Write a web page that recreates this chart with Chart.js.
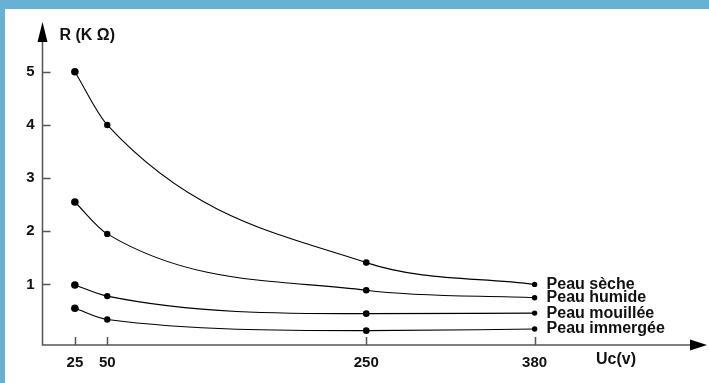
<!DOCTYPE html>
<html lang="fr">
<head>
<meta charset="UTF-8">
<title>Résistance du corps humain</title>
<script src="https://cdn.jsdelivr.net/npm/chart.js@4.4.1/dist/chart.umd.min.js"></script>
<style>
  body { margin: 0; background: #fff; }
  .frame { width: 704px; height: 374px; border-top: 9px solid #67b2d4; border-left: 5px solid #67b2d4; background: #fff; }
  canvas { display: block; }
</style>
</head>
<body>
<div class="frame"><canvas id="chart" width="704" height="374"></canvas></div>
<script>
// tension de contact (V) and resistance (k ohm) for each skin state
const tensions = [25, 50, 250, 380];
const yTicks = [1, 2, 3, 4, 5];
const names = ['Peau sèche', 'Peau humide', 'Peau mouillée', 'Peau immergée'];
const seche = [5.0, 4.0, 1.41, 1.0];
const humide = [2.55, 1.95, 0.89, 0.75];
const mouillee = [0.99, 0.78, 0.45, 0.46];
const immergee = [0.55, 0.34, 0.13, 0.16];

const font = "'Liberation Sans', Arial, sans-serif";

function makeSet(label, values) {
    return {
        label: label,
        data: tensions.map(function (x, i) { return { x: x, y: values[i] }; }),
        showLine: true,
        borderColor: '#000',
        borderWidth: 1.1,
        backgroundColor: '#000',
        pointBackgroundColor: '#000',
        pointBorderWidth: 0,
        pointRadius: [3.8, 3.2, 3.3, 2.7],
        cubicInterpolationMode: 'monotone'
    };
}

// axes with arrows, inner tick marks, titles and curve labels
const decorations = {
    id: 'decorations',
    afterDraw: function (chart) {
        const ctx = chart.ctx;
        const a = chart.chartArea;
        const xs = chart.scales.x, ys = chart.scales.y;
        ctx.save();
        ctx.strokeStyle = '#555';
        ctx.lineWidth = 1.5;
        ctx.beginPath();
        ctx.moveTo(a.left, a.top);
        ctx.lineTo(a.left, a.bottom);
        ctx.lineTo(a.right, a.bottom);
        yTicks.forEach(function (v) {
            const py = Math.round(ys.getPixelForValue(v)) + 0.5;
            ctx.moveTo(a.left, py);
            ctx.lineTo(a.left + 8, py);
        });
        tensions.forEach(function (v) {
            const px = Math.round(xs.getPixelForValue(v)) + 0.5;
            ctx.moveTo(px, a.bottom);
            ctx.lineTo(px, a.bottom - 8);
        });
        ctx.stroke();

        ctx.fillStyle = '#000';
        ctx.beginPath();
        ctx.moveTo(a.left, a.top - 20);
        ctx.lineTo(a.left - 5, a.top);
        ctx.lineTo(a.left + 5, a.top);
        ctx.closePath();
        ctx.fill();
        ctx.beginPath();
        ctx.moveTo(a.right + 17, a.bottom);
        ctx.lineTo(a.right, a.bottom - 5.5);
        ctx.lineTo(a.right, a.bottom + 5.5);
        ctx.closePath();
        ctx.fill();

        ctx.fillStyle = '#111';
        ctx.textBaseline = 'middle';
        ctx.textAlign = 'left';
        ctx.font = 'bold 16px ' + font;
        ctx.fillText('R (K Ω)', a.left + 17, a.top - 6);
        ctx.fillText('Uc(v)', 591, 351);

        chart.data.datasets.forEach(function (ds, i) {
            const pts = chart.getDatasetMeta(i).data;
            const last = pts[pts.length - 1];
            ctx.fillText(ds.label, last.x + 12, last.y);
        });
        ctx.restore();
    }
};

new Chart(document.getElementById('chart'), {
    type: 'scatter',
    data: {
        datasets: [
            makeSet(names[0], seche),
            makeSet(names[1], humide),
            makeSet(names[2], mouillee),
            makeSet(names[3], immergee)
        ]
    },
    options: {
        responsive: false,
        animation: false,
        layout: { padding: { top: 33, right: 19, left: 0, bottom: 0 } },
        plugins: { legend: { display: false }, tooltip: { enabled: false } },
        scales: {
            x: {
                type: 'linear',
                min: 0,
                max: 500,
                grid: { display: false, drawTicks: false },
                border: { display: false },
                afterBuildTicks: function (scale) {
                    scale.ticks = tensions.map(function (v) { return { value: v }; });
                },
                afterFit: function (scale) { scale.height = 38; },
                ticks: {
                    autoSkip: false,
                    maxRotation: 0,
                    padding: 9,
                    color: '#111',
                    font: { family: font, size: 15, weight: 'bold' }
                }
            },
            y: {
                min: -0.14,
                max: 5.56,
                grid: { display: false, drawTicks: false },
                border: { display: false },
                afterBuildTicks: function (scale) {
                    scale.ticks = yTicks.map(function (v) { return { value: v }; });
                },
                afterFit: function (scale) { scale.width = 37.5; },
                ticks: {
                    padding: 8,
                    color: '#111',
                    font: { family: font, size: 15, weight: 'bold' }
                }
            }
        }
    },
    plugins: [decorations]
});
</script>
</body>
</html>
